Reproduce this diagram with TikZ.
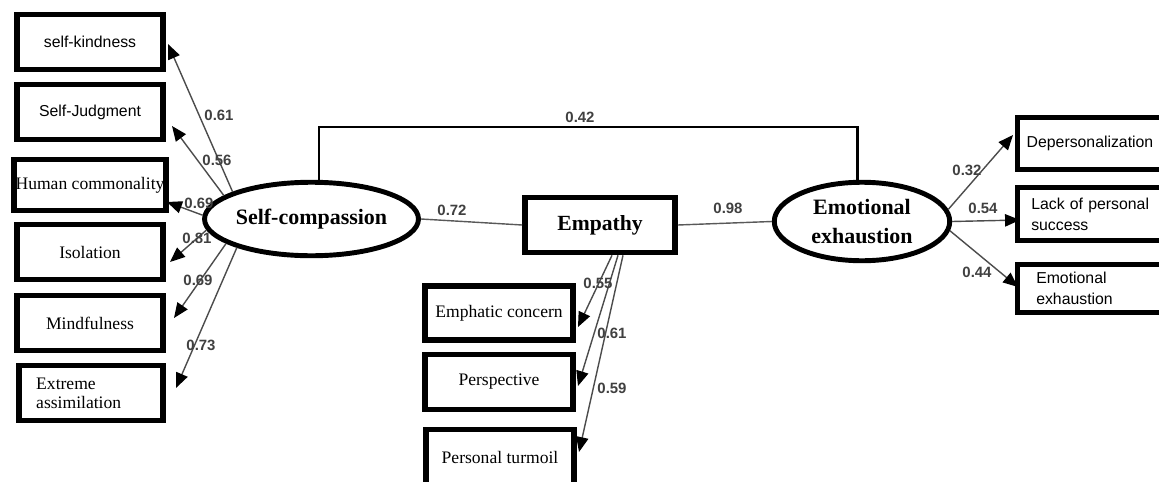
\documentclass[tikz,border=0pt]{standalone}
\usepackage{fontspec}
\setmainfont{Liberation Serif}
\newfontfamily\sansf{Liberation Sans}
\usetikzlibrary{arrows.meta,shapes.geometric}
\begin{document}
\begin{tikzpicture}[x=0.02cm,y=0.02cm,
  box/.style={draw,line width=3.2pt,rectangle,inner sep=1pt,minimum width=2.92cm,minimum height=1.1cm,font=\fontsize{10}{11}\selectfont,align=center},
  sbox/.style={box,font=\sansf\fontsize{9}{12}\selectfont},
  lat/.style={draw,ellipse,line width=2.8pt,inner sep=0pt,font=\bfseries\fontsize{12.5}{16}\selectfont,align=center},
  con/.style={draw=black!70,line width=0.8pt,-{Triangle[length=8.5pt,width=7pt,color=black]}},
  link/.style={draw=black!65,line width=0.8pt},
  lbl/.style={font=\sansf\bfseries\fontsize{8.5}{9}\selectfont,text=black!75,inner sep=0pt}
]
\useasboundingbox (0,0) rectangle (1159,481);

% left indicator boxes
\node[sbox] (kind) at (90,439) {self-kindness};
\node[sbox] (judg) at (90,369) {Self-Judgment};
\node[box,minimum height=1.02cm] (human) at (90,296) {Human commonality};
\node[box] (iso) at (90,229) {Isolation};
\node[box] (mind) at (90,158) {Mindfulness};
\node[box,minimum width=2.88cm,align=left] (ext) at (91,88) {Extreme\\assimilation\hspace*{1.4em}};

% latent variables
\node[lat,minimum width=3.45cm,minimum height=1.47cm] (sc) at (311.5,262) {Self-compassion};
\node[lat,minimum width=3.51cm,minimum height=1.57cm] (ee) at (862,259.5) {Emotional\\exhaustion};

% empathy
\node[box,minimum width=3.0cm,font=\bfseries\fontsize{12.3}{14}\selectfont] (emp) at (600,256) {Empathy};
\node[box,minimum width=2.96cm,minimum height=1.08cm] (ec) at (499,168) {Emphatic concern};
\node[box,minimum width=2.96cm] (persp) at (499,99) {Perspective};
\node[box,minimum width=2.96cm] (turm) at (500,24) {Personal turmoil};

% right indicator boxes
\node[sbox,minimum width=2.9cm,minimum height=1.04cm] (dep) at (1090,337.5) {Depersonalization};
\node[sbox,minimum width=2.9cm,minimum height=1.06cm,align=left,text width=2.55cm] (lack) at (1090,267) {\hspace*{0.1cm}Lack of personal\\\hspace*{0.1cm}success};
\node[sbox,minimum width=2.9cm,minimum height=0.96cm,align=left,text width=2.55cm] (emob) at (1090,192.5) {\hspace*{0.2cm}Emotional\\\hspace*{0.2cm}exhaustion};

% arrow tip coordinates
\coordinate (t1) at (168,437);
\coordinate (t2) at (172,355);
\coordinate (t3) at (167,279);
\coordinate (t4) at (170,219);
\coordinate (t5) at (174,163);
\coordinate (t6) at (176,93);
\coordinate (t7) at (578,154);
\coordinate (t8) at (578,95);
\coordinate (t9) at (579,29);
\coordinate (t10) at (1013,346);
\coordinate (t11) at (1020,261);
\coordinate (t12) at (1018,194);
\coordinate (top) at (0,354);

% self-compassion loadings
\draw[con] (sc.161) -- (t1);
\draw[con] (sc.165) -- (t2);
\draw[con] (sc.178) -- (t3);
\draw[con] (sc.186) -- (t4);
\draw[con] (sc.196) -- (t5);
\draw[con] (sc.201) -- (t6);

% structural paths
\draw[link] (sc.east) -- (emp.west);
\draw[link] (emp.east) -- (ee.west);
\draw[line width=1.3pt] (sc.79) -- (sc.79 |- top) -- (ee.96 |- top) -- (ee.96);

% empathy loadings
\draw[con] ([xshift=0.24cm]emp.south) -- (t7);
\draw[con] ([xshift=0.36cm]emp.south) -- (t8);
\draw[con] ([xshift=0.46cm]emp.south) -- (t9);

% emotional exhaustion loadings
\draw[con] (ee.8) -- (t10);
\draw[con] (ee.east) -- (t11);
\draw[con] (ee.-6) -- (t12);

% labels
\node[lbl] (l1) at (219,366) {0.61};
\node[lbl] (l2) at (217,321) {0.56};
\node[lbl] (l3) at (199,278) {0.69};
\node[lbl] (l4) at (197,243) {0.81};
\node[lbl] (l5) at (198,201) {0.69};
\node[lbl] (l6) at (201,136) {0.73};
\node[lbl] (l7) at (580,364) {0.42};
\node[lbl] (l8) at (452,271) {0.72};
\node[lbl] (l9) at (728,273) {0.98};
\node[lbl] (l10) at (598,198) {0.55};
\node[lbl] (l11) at (612,148) {0.61};
\node[lbl] (l12) at (612,93) {0.59};
\node[lbl] (l13) at (967,311) {0.32};
\node[lbl] (l14) at (983,273) {0.54};
\node[lbl] (l15) at (977,209) {0.44};
\end{tikzpicture}
\end{document}
